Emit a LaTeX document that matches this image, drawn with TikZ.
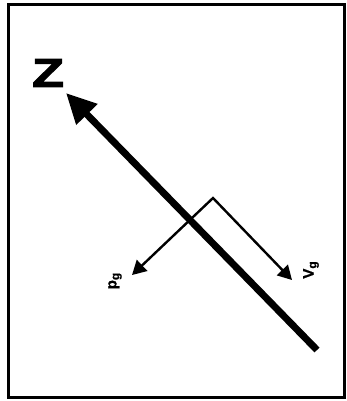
\documentclass[tikz,border=0pt]{standalone}
\usepackage{fontspec}
\setmainfont{Liberation Sans}
\setsansfont{Liberation Sans}
\newfontfamily\zfont[FakeBold=2.5]{Liberation Sans Bold}
\newfontfamily\lblfont[FakeBold=1]{Liberation Sans Bold}
\usetikzlibrary{arrows.meta}
\tikzset{
  frame/.style={line width=3pt, black},
  axis/.style={line width=7pt, -{Triangle[length=30pt,width=28pt]}},
  vec/.style={line width=2.4pt, {Triangle[length=14pt,width=15pt]}-{Triangle[length=14pt,width=15pt]}, line join=miter},
  lbl/.style={rotate=90, inner sep=0pt, font=\lblfont\fontsize{15}{15}\selectfont},
  zlbl/.style={inner sep=0pt, xscale=1.3, font=\zfont\fontsize{40}{40}\selectfont}
}
\newcommand{\subg}{\raisebox{-0.35ex}{\fontsize{12}{12}\selectfont g}}
\begin{document}
\begin{tikzpicture}[x=1pt,y=-1pt]
\useasboundingbox (0,0) rectangle (347,401);
\fill[white] (0,0) rectangle (347,401);
\draw[frame] (8,5) rectangle (344,397);
\coordinate (zend) at (317,350);
\coordinate (ztip) at (66,93);
\draw[axis] (zend) -- (ztip);
\node[zlbl] (zlabel) at (48,73) {Z};
\coordinate (bend) at (213,198);
\coordinate (ptip) at (132,275);
\coordinate (vtip) at (292,280);
\draw[vec] (ptip) -- (bend) -- (vtip);
\node[lbl] (plabel) at (115,281) {p\subg};
\node[lbl] (vlabel) at (311,270) {V\subg};
\end{tikzpicture}
\end{document}
